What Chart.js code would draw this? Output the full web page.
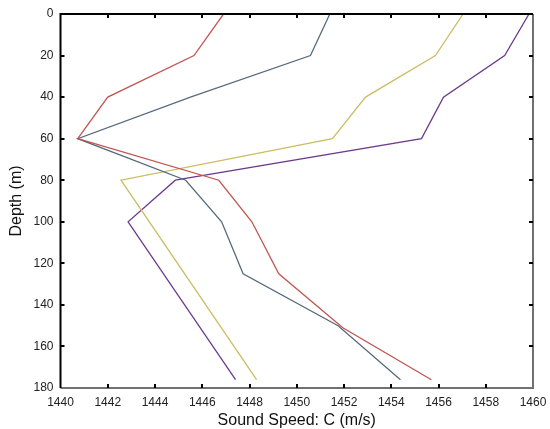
<!DOCTYPE html>
<html>
<head>
<meta charset="utf-8">
<script src="https://cdn.jsdelivr.net/npm/chart.js@4/dist/chart.umd.min.js"></script>
<style>
html,body{margin:0;padding:0;background:#fff;}
#wrap{width:550px;height:429px;position:relative;}
</style>
</head>
<body>
<div id="wrap"><canvas id="c" width="550" height="429"></canvas></div>
<script>
// Data (depth in m, sound speed in m/s)
const depthsRed    = [0, 20, 40, 60, 80, 100, 125, 151, 176];
const speedRed     = [1446.9, 1445.65, 1442.0, 1440.73, 1446.7, 1448.1, 1449.24, 1451.95, 1455.7];
const depthsGray   = [0, 20, 40, 60, 80, 100, 125, 150, 176];
const speedGray    = [1451.4, 1450.58, 1445.5, 1440.73, 1445.3, 1446.82, 1447.73, 1451.75, 1454.39];
const depthsYellow = [0, 20, 40, 60, 80, 176];
const speedYellow  = [1457.04, 1455.87, 1452.91, 1451.51, 1442.56, 1448.3];
const depthsPurple = [0, 20, 40, 60, 80, 100, 176];
const speedPurple  = [1459.83, 1458.8, 1456.21, 1455.28, 1444.86, 1442.86, 1447.41];
const xTicks = [1440, 1442, 1444, 1446, 1448, 1450, 1452, 1454, 1456, 1458, 1460];
const yTicks = [0, 20, 40, 60, 80, 100, 120, 140, 160, 180];

function pts(xs, ys){ return xs.map((x,i)=>({x:x, y:ys[i]})); }

const FONT = "'Liberation Sans', Arial, Helvetica, sans-serif";

const frame = {
  id: 'frame',
  afterDraw(chart){
    const ctx = chart.ctx, a = chart.chartArea;
    const xs = chart.scales.x, ys = chart.scales.y;
    ctx.save();
    ctx.lineCap = 'butt';
    ctx.strokeStyle = '#707070'; ctx.lineWidth = 2;
    ctx.beginPath();
    ctx.moveTo(a.left, a.bottom); ctx.lineTo(a.right, a.bottom); ctx.lineTo(a.right, a.top);
    ctx.stroke();
    ctx.strokeStyle = '#000'; ctx.lineWidth = 2;
    ctx.beginPath();
    ctx.moveTo(a.left, a.bottom); ctx.lineTo(a.left, a.top); ctx.lineTo(a.right, a.top);
    ctx.stroke();
    ctx.strokeStyle = '#000'; ctx.lineWidth = 2;
    const L = 4;
    ctx.beginPath();
    xTicks.forEach(v=>{
      const p = Math.round(xs.getPixelForValue(v));
      if (v !== xTicks[0] && v !== xTicks[xTicks.length-1]) {
        ctx.moveTo(p, a.bottom); ctx.lineTo(p, a.bottom - L);
        ctx.moveTo(p, a.top); ctx.lineTo(p, a.top + L);
      }
    });
    yTicks.forEach(v=>{
      const p = Math.round(ys.getPixelForValue(v));
      if (v !== yTicks[0] && v !== yTicks[yTicks.length-1]) {
        ctx.moveTo(a.left, p); ctx.lineTo(a.left + L, p);
        ctx.moveTo(a.right, p); ctx.lineTo(a.right - L, p);
      }
    });
    ctx.stroke();
    ctx.restore();
  }
};

const ds = (label, color, xs, ys) => ({
  label, data: pts(xs, ys), borderColor: color, backgroundColor: color,
  borderWidth: 1.3, pointRadius: 0, tension: 0, fill: false, showLine: true
});

new Chart(document.getElementById('c'), {
  type: 'scatter',
  data: {
    datasets: [
      ds('Red', '#c25550', speedRed, depthsRed),
      ds('Gray', '#566b7e', speedGray, depthsGray),
      ds('Yellow', '#cbbd62', speedYellow, depthsYellow),
      ds('Purple', '#6e3a8c', speedPurple, depthsPurple)
    ]
  },
  options: {
    responsive: false,
    animation: false,
    devicePixelRatio: 1,
    layout: { padding: { left: 0, right: 17, top: 14, bottom: 0 } },
    plugins: { legend: { display: false }, tooltip: { enabled: false } },
    scales: {
      x: {
        type: 'linear', min: 1440, max: 1460,
        afterBuildTicks(s){ s.ticks = xTicks.map(v=>({value:v})); },
        afterFit(s){ s.height = 41; s.paddingLeft = 0; s.paddingRight = 0; },
        grid: { display: false, drawTicks: false },
        border: { display: false },
        ticks: { color: '#222', font: { family: FONT, size: 12 }, padding: 7, maxRotation: 0,
                 callback: v => String(v) },
        title: { display: true, text: 'Sound Speed: C (m/s)', color: '#111',
                 font: { family: FONT, size: 16, lineHeight: 1.0 }, padding: { top: 0, bottom: 0 } }
      },
      y: {
        type: 'linear', min: 0, max: 180, reverse: true,
        afterBuildTicks(s){ s.ticks = yTicks.map(v=>({value:v})); },
        afterFit(s){ s.width = 60.5; s.paddingTop = 0; s.paddingBottom = 0; },
        grid: { display: false, drawTicks: false },
        border: { display: false },
        ticks: { color: '#222', font: { family: FONT, size: 12 }, padding: 7, callback: v => String(v) },
        title: { display: true, text: 'Depth (m)', color: '#111',
                 font: { family: FONT, size: 16, lineHeight: 1.0 }, padding: { top: 9, bottom: 0 } }
      }
    }
  },
  plugins: [frame]
});
</script>
</body>
</html>
